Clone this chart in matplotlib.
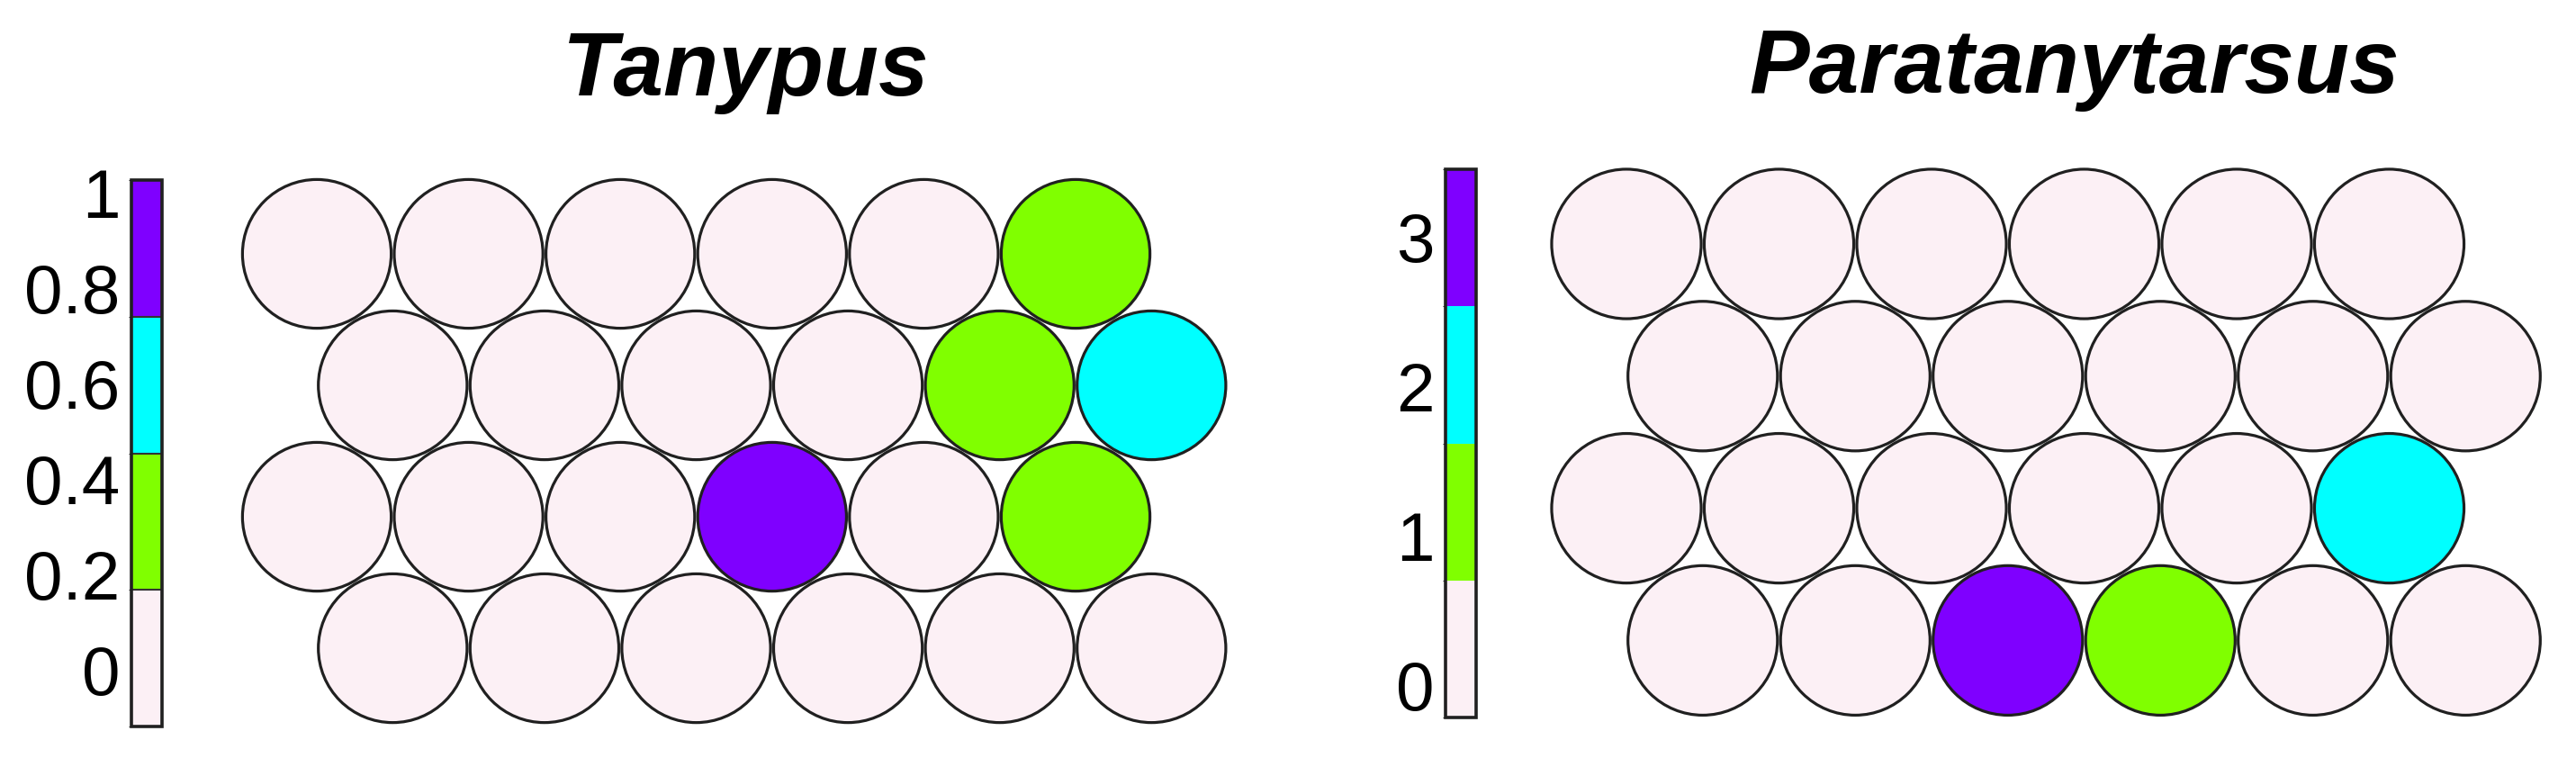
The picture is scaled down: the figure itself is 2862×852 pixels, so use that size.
import numpy as np
import matplotlib
matplotlib.use("Agg")
import matplotlib.pyplot as plt
from matplotlib.colors import ListedColormap, BoundaryNorm
from matplotlib.patches import Circle
from matplotlib.collections import PatchCollection
from matplotlib.cm import ScalarMappable

plt.rcParams['font.family'] = ['Liberation Sans', 'DejaVu Sans']

# ---------------- data ----------------
palette = ['#FCF0F5', '#80FF00', '#00FFFF', '#7F00FF']

titles = ['Tanypus', 'Paratanytarsus']

# node values, rows listed from top to bottom, 6 nodes per row
tanypus_rows = [
    [0, 0, 0, 0, 0, 0.33],
    [0, 0, 0, 0, 0.33, 0.6],
    [0, 0, 0, 1.0, 0, 0.33],
    [0, 0, 0, 0, 0, 0],
]
paratanytarsus_rows = [
    [0, 0, 0, 0, 0, 0],
    [0, 0, 0, 0, 0, 0],
    [0, 0, 0, 0, 0, 2],
    [0, 0, 3, 1, 0, 0],
]

tanypus_range = [-0.12, 1.026]
paratanytarsus_range = [-0.22, 3.45]

tanypus_ticks = [0, 0.2, 0.4, 0.6, 0.8, 1]
tanypus_ticklabels = ['0', '0.2', '0.4', '0.6', '0.8', '1']
paratanytarsus_ticks = [0, 1, 2, 3]
paratanytarsus_ticklabels = ['0', '1', '2', '3']

# ---------------- layout ----------------
W, H = 2862, 853
DPI = 100
fig = plt.figure(figsize=(W / DPI, H / DPI), dpi=DPI)
fig.patch.set_facecolor('white')


def px_axes(left, top, width, height):
    return fig.add_axes([left / W, 1 - (top + height) / H, width / W, height / H])


def draw_panel(rows, vrange, ticks, ticklabels, title, grid_origin, spacing,
               cbar_box, title_pos, dividers):
    cmap = ListedColormap(palette)
    bounds = np.linspace(vrange[0], vrange[1], len(palette) + 1)
    norm = BoundaryNorm(bounds, cmap.N)

    nrow = len(rows)
    ncol = len(rows[0])
    h = np.sqrt(3) / 2
    pad = 0.6
    x0, ytop = grid_origin
    xlim = (-pad, ncol - 1 + 0.5 + pad)
    ylim = (-pad, (nrow - 1) * h + pad)
    ax = px_axes(x0 - pad * spacing, ytop - pad * spacing,
                 (xlim[1] - xlim[0]) * spacing, (ylim[1] - ylim[0]) * spacing)
    ax.set_xlim(*xlim)
    ax.set_ylim(*ylim)
    ax.axis('off')

    patches, vals = [], []
    for i, row in enumerate(rows):
        r = nrow - 1 - i          # row index from bottom
        shift = 0.5 if r % 2 == 0 else 0.0
        for c, v in enumerate(row):
            patches.append(Circle((c + shift, r * h), 0.49))
            vals.append(v)
    pc = PatchCollection(patches, cmap=cmap, norm=norm,
                         edgecolor='#202020', linewidth=2.3)
    pc.set_array(np.array(vals, dtype=float))
    ax.add_collection(pc)

    # colour key
    cax = px_axes(*cbar_box)
    sm = ScalarMappable(norm=norm, cmap=cmap)
    cb = fig.colorbar(sm, cax=cax, boundaries=bounds, ticks=ticks,
                      drawedges=dividers)
    cb.outline.set_linewidth(2.6)
    cb.outline.set_edgecolor('#202020')
    if dividers:
        cb.dividers.set_linewidth(1.5)
        cb.dividers.set_color('#333333')
    cax.yaxis.set_ticks_position('left')
    cax.set_yticklabels(ticklabels)
    cax.tick_params(axis='y', length=0, pad=9, labelsize=55, colors='black')

    fig.text(title_pos[0] / W, 1 - title_pos[1] / H, title,
             ha='center', va='baseline', fontsize=72,
             fontweight='bold', fontstyle='italic')


draw_panel(tanypus_rows, tanypus_range, tanypus_ticks, tanypus_ticklabels,
           titles[0], grid_origin=(352, 283), spacing=168.6,
           cbar_box=(146, 201, 34, 607), title_pos=(829, 106), dividers=True)

draw_panel(paratanytarsus_rows, paratanytarsus_range, paratanytarsus_ticks,
           paratanytarsus_ticklabels, titles[1], grid_origin=(1807, 272),
           spacing=169.5, cbar_box=(1606, 189, 34, 609),
           title_pos=(2305, 103), dividers=False)

fig.savefig('out.png', dpi=DPI, facecolor='white')
